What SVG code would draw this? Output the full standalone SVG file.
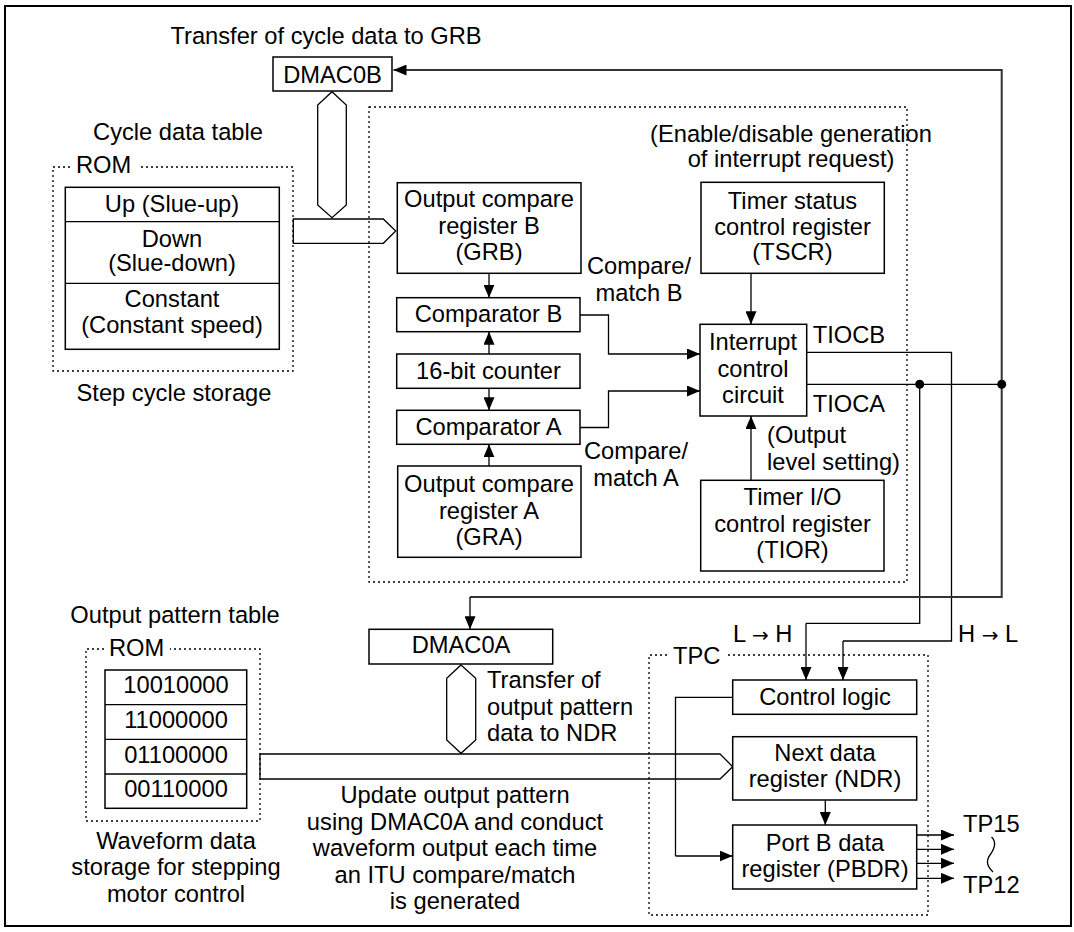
<svg xmlns="http://www.w3.org/2000/svg" width="1074" height="932" viewBox="0 0 1074 932">
<defs>
<marker id="ah" markerWidth="13" markerHeight="11" refX="13" refY="5.5" orient="auto" markerUnits="userSpaceOnUse"><path d="M0,0 L13,5.5 L0,11 z" fill="#000"/></marker>
<style>
text{font-family:"Liberation Sans",Arial,sans-serif;font-size:23.7px;fill:#000}
.m{text-anchor:middle}
.sym{font-family:"DejaVu Sans",sans-serif;font-size:20px}
.box{fill:#fff;stroke:#000;stroke-width:1.5}
.bus{fill:none;stroke:#000;stroke-width:1.3}
.dot{fill:none;stroke:#000;stroke-width:1.3;stroke-dasharray:2 3}
.ln{fill:none;stroke:#000;stroke-width:1.3}
.lg{fill:none;stroke:#333;stroke-width:2}
.arr{marker-end:url(#ah)}
</style>
</defs>
<rect x="5" y="6" width="1066" height="920" fill="#fff" stroke="#000" stroke-width="2"/>

<g id="rom1">
<path class="dot" d="M70,167 H53 V371 H293 V167 H140"/>
<text x="76" y="173">ROM</text>
<text class="m" x="178" y="140">Cycle data table</text>
<text class="m" x="174" y="401">Step cycle storage</text>
</g>
<g id="itu"><rect class="dot" x="369" y="107" width="538" height="475"/></g>
<g id="rom2">
<path class="dot" d="M104,649 H86 V821 H260 V649 H170"/>
<text x="109" y="656">ROM</text>
<text class="m" x="175" y="623">Output pattern table</text>
<text class="m" x="176" y="848.5">Waveform data</text>
<text class="m" x="176" y="875">storage for stepping</text>
<text class="m" x="176" y="901.5">motor control</text>
</g>
<g id="tpc">
<path class="dot" d="M667,655 H649 V915 H928 V655 H725"/>
<text x="673" y="664">TPC</text>
</g>

<g id="connectors">
<polygon class="bus" points="332,91.7 346.3,105 346.3,205 332,217.7 317.7,205 317.7,105"/>
<polygon class="bus" points="293.3,219 383.3,219 395.7,231 383.3,243.3 293.3,243.3"/>
<polygon class="bus" points="461,665 475.7,678.3 475.7,740 461,753.3 446.7,740 446.7,678.3"/>
<polygon class="bus" points="260,754 720,754 732.7,766.7 720,779 260,779"/>
<line class="ln arr" x1="489" y1="273.3" x2="489" y2="297.7"/>
<line class="ln arr" x1="489" y1="354" x2="489" y2="331.7"/>
<line class="ln arr" x1="489" y1="388.3" x2="489" y2="410.3"/>
<line class="ln arr" x1="489" y1="466" x2="489" y2="444.3"/>
<polyline class="ln arr" points="580,315 608.5,315 608.5,354 700,354"/>
<polyline class="ln arr" points="580,427.5 608.5,427.5 608.5,391 700,391"/>
<line class="ln arr" x1="751" y1="273.3" x2="751" y2="324.3"/>
<line class="ln arr" x1="751" y1="480.3" x2="751" y2="416"/>
<polyline class="ln" points="806.7,352.3 951.5,352.3 951.5,641 843,641"/>
<line class="ln arr" x1="843" y1="641" x2="843" y2="680"/>
<line class="ln" x1="806.7" y1="384.3" x2="1001.7" y2="384.3"/>
<polyline class="ln" points="919.7,384.3 919.7,623.3 806,623.3"/>
<line class="ln arr" x1="806" y1="623.3" x2="806" y2="680"/>
<polyline class="lg arr" points="1001.7,384.3 1001.7,70 393.5,70"/>
<polyline class="lg" points="1001.7,384.3 1001.7,597 470,597"/>
<line class="ln arr" x1="470" y1="597" x2="470" y2="629.3"/>
<circle cx="919.7" cy="384.3" r="4.5"/>
<circle cx="1001.7" cy="384.3" r="4.5"/>
<polyline class="ln" points="732.7,697.3 675.5,697.3 675.5,856"/>
<line class="ln arr" x1="675.5" y1="856" x2="732.7" y2="856"/>
<line class="ln arr" x1="825.3" y1="800" x2="825.3" y2="825"/>
<line class="ln arr" x1="916.7" y1="835" x2="954" y2="835"/>
<line class="ln arr" x1="916.7" y1="849.3" x2="954" y2="849.3"/>
<line class="ln arr" x1="916.7" y1="863.3" x2="954" y2="863.3"/>
<line class="ln arr" x1="916.7" y1="878.3" x2="954" y2="878.3"/>
<path class="ln" d="M991.5,837 C997,842 995,848 990,855 C985,862 988,867 993,872"/>
</g>

<g id="dmac0b">
<rect class="box" x="273" y="57" width="119" height="34"/>
<text class="m" x="332.5" y="83">DMAC0B</text>
</g>
<text class="m" x="326" y="44">Transfer of cycle data to GRB</text>

<g id="cycletable">
<rect class="box" x="65.3" y="187.3" width="214" height="162"/>
<line class="ln" x1="65.3" y1="221.7" x2="279.3" y2="221.7"/>
<line class="ln" x1="65.3" y1="283.3" x2="279.3" y2="283.3"/>
<text class="m" x="172" y="212">Up (Slue-up)</text>
<text class="m" x="172" y="247">Down</text>
<text class="m" x="172" y="271">(Slue-down)</text>
<text class="m" x="172" y="307">Constant</text>
<text class="m" x="172" y="333">(Constant speed)</text>
</g>

<g id="grb">
<rect class="box" x="397.3" y="182.7" width="183.7" height="90.6"/>
<text class="m" x="489" y="207">Output compare</text>
<text class="m" x="489" y="233.5">register B</text>
<text class="m" x="489" y="259.5">(GRB)</text>
</g>
<g id="compb">
<rect class="box" x="396.7" y="297.7" width="183.3" height="34"/>
<text class="m" x="488.5" y="322">Comparator B</text>
</g>
<g id="counter">
<rect class="box" x="396.7" y="354" width="183.3" height="34.3"/>
<text class="m" x="488.5" y="378.5">16-bit counter</text>
</g>
<g id="compa">
<rect class="box" x="396.7" y="410.3" width="183.3" height="34"/>
<text class="m" x="488.5" y="435">Comparator A</text>
</g>
<g id="gra">
<rect class="box" x="397.7" y="466" width="183.3" height="91.3"/>
<text class="m" x="489" y="492">Output compare</text>
<text class="m" x="489" y="518.5">register A</text>
<text class="m" x="489" y="545">(GRA)</text>
</g>
<text class="m" x="639" y="274">Compare/</text>
<text class="m" x="639" y="300.5">match B</text>
<text class="m" x="636" y="459">Compare/</text>
<text class="m" x="636" y="486">match A</text>

<text class="m" x="791" y="142">(Enable/disable generation</text>
<text class="m" x="791" y="167">of interrupt request)</text>
<g id="tscr">
<rect class="box" x="701" y="182.3" width="183.3" height="91"/>
<text class="m" x="792.5" y="209">Timer status</text>
<text class="m" x="792.5" y="235">control register</text>
<text class="m" x="792.5" y="260">(TSCR)</text>
</g>
<g id="intc">
<rect class="box" x="700" y="324.3" width="106.7" height="91.7"/>
<text class="m" x="753" y="350">Interrupt</text>
<text class="m" x="753" y="376.5">control</text>
<text class="m" x="753" y="403">circuit</text>
</g>
<text x="812.7" y="343">TIOCB</text>
<text x="812.7" y="412">TIOCA</text>
<text x="767" y="443">(Output</text>
<text x="767" y="469.5">level setting)</text>
<g id="tior">
<rect class="box" x="700.7" y="480.3" width="183.3" height="90.7"/>
<text class="m" x="792.5" y="505">Timer I/O</text>
<text class="m" x="792.5" y="531.5">control register</text>
<text class="m" x="792.5" y="558">(TIOR)</text>
</g>

<g id="patterntable">
<rect class="box" x="105" y="670" width="141.7" height="138.3"/>
<line class="ln" x1="105" y1="704.7" x2="246.7" y2="704.7"/>
<line class="ln" x1="105" y1="739.3" x2="246.7" y2="739.3"/>
<line class="ln" x1="105" y1="774" x2="246.7" y2="774"/>
<text class="m" x="176" y="693">10010000</text>
<text class="m" x="176" y="728">11000000</text>
<text class="m" x="176" y="762.5">01100000</text>
<text class="m" x="176" y="797">00110000</text>
</g>

<g id="dmac0a">
<rect class="box" x="369" y="629.3" width="183.7" height="34.7"/>
<text class="m" x="461" y="653">DMAC0A</text>
</g>
<text x="487" y="688">Transfer of</text>
<text x="487" y="715">output pattern</text>
<text x="487" y="741">data to NDR</text>
<text class="m" x="455" y="803">Update output pattern</text>
<text class="m" x="455" y="829.5">using DMAC0A and conduct</text>
<text class="m" x="455" y="856">waveform output each time</text>
<text class="m" x="455" y="882.5">an ITU compare/match</text>
<text class="m" x="455" y="909">is generated</text>

<text x="733" y="641.5">L <tspan class="sym">→</tspan> H</text>
<text x="958" y="641.5">H <tspan class="sym">→</tspan> L</text>
<g id="ctrl">
<rect class="box" x="732.7" y="680" width="184" height="34.3"/>
<text class="m" x="825" y="705">Control logic</text>
</g>
<g id="ndr">
<rect class="box" x="732.7" y="736.7" width="184" height="63.3"/>
<text class="m" x="825" y="760.7">Next data</text>
<text class="m" x="825" y="786.7">register (NDR)</text>
</g>
<g id="pbdr">
<rect class="box" x="732.7" y="825" width="184" height="64"/>
<text class="m" x="825" y="850.7">Port B data</text>
<text class="m" x="825" y="876.7">register (PBDR)</text>
</g>
<text x="963" y="832">TP15</text>
<text x="963" y="893">TP12</text>
</svg>
